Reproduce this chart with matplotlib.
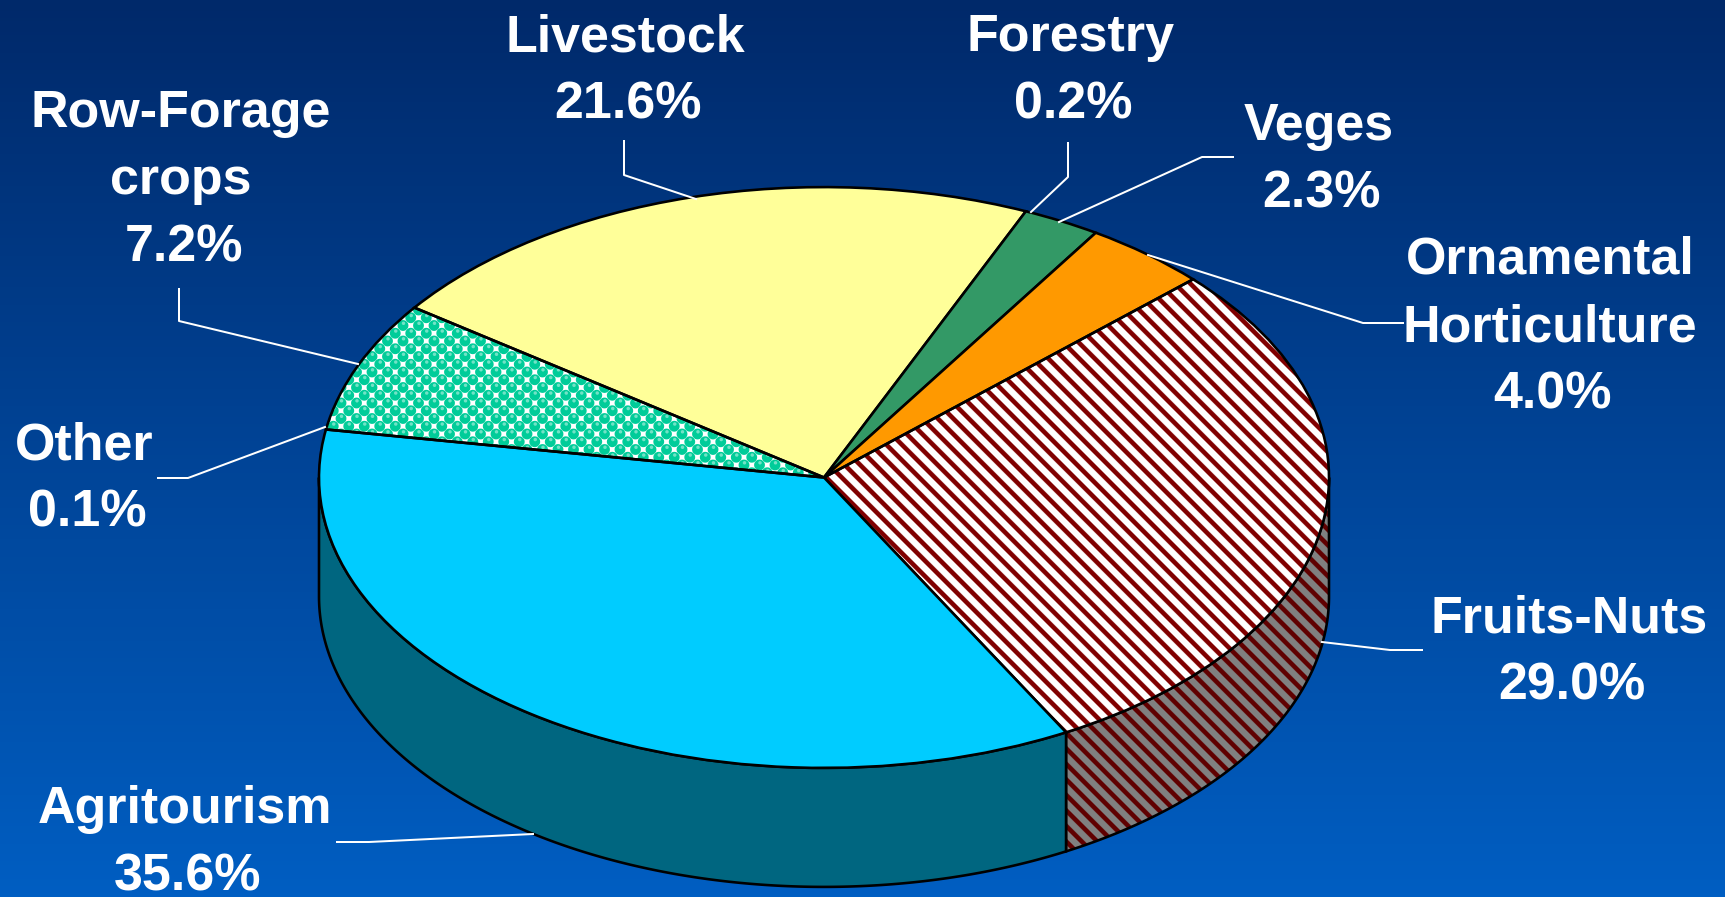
import numpy as np
from matplotlib import pyplot as plt
from matplotlib.colors import LinearSegmentedColormap
from matplotlib.patches import Wedge, Polygon
from matplotlib.transforms import Affine2D

names = ["Livestock", "Forestry", "Veges", "Ornamental\nHorticulture", "Fruits-Nuts",
         "Agritourism", "Other", "Row-Forage\ncrops"]
values = [21.6, 0.2, 2.3, 4.0, 29.0, 35.6, 0.1, 7.2]
colors = ["#FFFF99", "#339966", "#339966", "#FF9900", "#FFFFFF", "#00CCFF", "#FFFFFF", "#FFFFFF"]

# label centres, pixels from top left
label_x = [625, 1070, 1319, 1550, 1569, 185, 84, 181]
label_y = [71, 71, 160, 327, 652, 843, 479, 180]

leaders = [
    [(624, 141), (624, 175), (696, 199)],
    [(1068, 143), (1068, 177), (1031, 212)],
    [(1233, 157), (1202, 157), (1059, 222)],
    [(1403, 323), (1363, 323), (1148, 255)],
    [(1422, 650), (1390, 650), (1322, 642)],
    [(337, 842), (369, 842), (533, 834)],
    [(158, 478), (188, 478), (325, 427)],
    [(179, 289), (179, 321), (358, 364)],
]

plt.rcParams['font.family'] = ['Liberation Sans', 'DejaVu Sans']

fig = plt.figure(figsize=(1725 / 144, 897 / 144), dpi=144)
ax = fig.add_axes([0, 0, 1, 1])

# background gradient
bg = LinearSegmentedColormap.from_list("bg", ["#00296A", "#005EC2"])
ax.imshow(np.linspace(0, 1, 897).reshape(-1, 1), cmap=bg, extent=(0, 1725, 897, 0), aspect='auto')

cx, cy, a, b, depth = 824, 477.5, 505, 290.4, 119
top = Affine2D().scale(a, -b).translate(cx, cy) + ax.transData

# slice angles, clockwise from the Row-Forage / Livestock edge
start = 144.2
ends = start - np.cumsum(values) * 3.6
starts = np.concatenate([[start], ends[:-1]])

# pixel grid for the pattern fills
X, Y = np.meshgrid(np.arange(1725) + 0.5, np.arange(897) + 0.5)
extent = (0, 1725, 897, 0)


def wall(t1, t2):
    t = np.radians(np.linspace(t1, t2, 200))
    x = cx + a * np.cos(t)
    y = cy - b * np.sin(t)
    return np.concatenate([np.column_stack([x, y]), np.column_stack([x, y + depth])[::-1]])


def stripes(back, front):
    # diagonal stripes going down to the right
    dist = np.abs(((X - Y) / 15.5) % 1 - 0.5) * 15.5
    k = np.clip((4.0 - dist) / 1.5, 0, 1)[..., None]
    return np.array(back) / 255 * (1 - k) + np.array(front) / 255 * k


def patterned(tex, patch, z):
    im = ax.imshow(tex, extent=extent, aspect='auto', zorder=z)
    im.set_clip_path(patch)


# side walls of the front slices
fruits = values.index(29.0)
side_f = Polygon(wall(0, ends[fruits]), transform=ax.transData)
patterned(stripes((128, 128, 128), (96, 0, 0)), side_f, 1.5)
ax.add_patch(Polygon(wall(0, ends[fruits]), fill=False, edgecolor="black", linewidth=1.3, zorder=1.6))
ax.add_patch(Polygon(wall(ends[fruits], -180), facecolor="#006680", edgecolor="black", linewidth=1.3, zorder=1.6))

# dotted fill for Row-Forage
p, q = X / 15.5 + Y / 15.5, X / 15.5 - Y / 15.5
fp, fq = p - np.round(p), q - np.round(q)
dx, dy = (fp + fq) * 7.75, (fp - fq) * 7.75
dot = np.clip(5.9 - np.hypot(dx, dy), 0, 1)[..., None]
shine = np.clip(2.2 - np.hypot(dx - 0.5, dy + 2.2), 0, 1)[..., None]
green = np.array([0, 204, 153]) / 255
dots = 1 - dot * (1 - green)
dots = dots * (1 - shine * 0.45) + shine * 0.45

# top of the pie, slivers under 0.5% only show as the edge line
row = len(values) - 1
for i in range(len(values)):
    if values[i] < 0.5:
        continue
    t2 = starts[i] if i == 0 else (ends[i - 1] if values[i - 1] >= 0.5 else ends[i - 2])
    if i == fruits:
        patterned(stripes((255, 255, 255), (128, 0, 0)), Wedge((0, 0), 1, ends[i], t2, transform=top), 2.5)
    if i == row:
        patterned(dots, Wedge((0, 0), 1, ends[i], t2, transform=top), 2.5)
    fill = colors[i] if i not in (fruits, row) else "none"
    ax.add_patch(Wedge((0, 0), 1, ends[i], t2, transform=top, facecolor=fill,
                       edgecolor="black", linewidth=1.3, zorder=3))

# leader lines and labels, each line placed on its own baseline
pitch = 67.3
for i in range(len(values)):
    pts = np.array(leaders[i])
    ax.plot(pts[:, 0], pts[:, 1], color="white", linewidth=1.0, zorder=5)
    lines = names[i].split("\n")
    first = label_y[i] - pitch * len(lines) / 2 + 14
    for k, line in enumerate(lines):
        ax.text(label_x[i], first + k * pitch, line, color="white", fontsize=26,
                fontweight="bold", ha="center", va="baseline", zorder=6)
    ax.text(label_x[i] + 3, first + len(lines) * pitch, "%.1f%%" % values[i], color="white", fontsize=26,
            fontweight="bold", ha="center", va="baseline", zorder=6)

ax.set_xlim(0, 1725)
ax.set_ylim(897, 0)
ax.axis("off")

fig.savefig("out.png", dpi=144)
